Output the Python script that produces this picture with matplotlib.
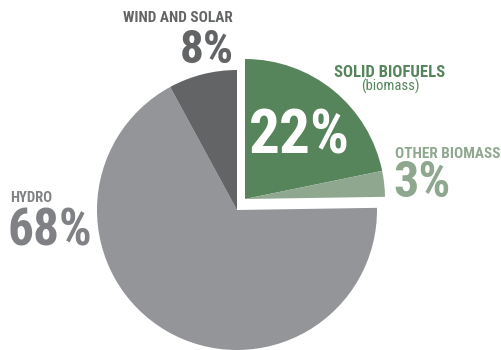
import matplotlib.pyplot as plt

# renewable energy shares (%), clockwise from the top
labels = ['SOLID BIOFUELS', 'OTHER BIOMASS', 'HYDRO', 'WIND AND SOLAR']
shares = [22, 3, 68, 8]
colors = ['#56855b', '#8fa78f', '#939598', '#636466']

plt.rcParams['font.family'] = ['Roboto Condensed', 'DejaVu Sans']

fig = plt.figure(figsize=(5.01, 3.5), dpi=100)
ax = fig.add_axes([0, 0, 1, 1])

wedges, _ = ax.pie(shares, startangle=90, counterclock=False, radius=140,
                   center=(237, 140), colors=colors,
                   wedgeprops={'linewidth': 0})
ax.set_xlim(0, 501)
ax.set_ylim(0, 350)
ax.axis('off')

# pull the biomass slices out together
for w in wedges[:2]:
    w.set_center((245, 151))

ax.text(233, 328, 'WIND AND SOLAR', color='#636466', fontsize=11,
        fontweight='bold', ha='right', va='baseline')
ax.text(234, 287, '8%', color='#636466', fontsize=34, fontweight='bold',
        ha='right', va='baseline')

ax.text(10, 148, 'HYDRO', color='#808184', fontsize=10.5, fontweight='bold',
        ha='left', va='baseline')
ax.text(8, 104, '68%', color='#808184', fontsize=37, fontweight='bold',
        ha='left', va='baseline')

ax.text(390, 273, 'SOLID BIOFUELS', color='#56855b', fontsize=12,
        fontweight='bold', ha='center', va='baseline')
ax.text(390, 259, '(biomass)', color='#56855b', fontsize=10.5,
        ha='center', va='baseline')
ax.text(249, 197, '22%', color='white', fontsize=44, fontweight='bold',
        ha='left', va='baseline')

ax.text(395, 192, 'OTHER BIOMASS', color='#8fa78f', fontsize=11,
        fontweight='bold', ha='left', va='baseline')
ax.text(393, 153, '3%', color='#8fa78f', fontsize=36, fontweight='bold',
        ha='left', va='baseline')

fig.savefig('out.png', dpi=100)
